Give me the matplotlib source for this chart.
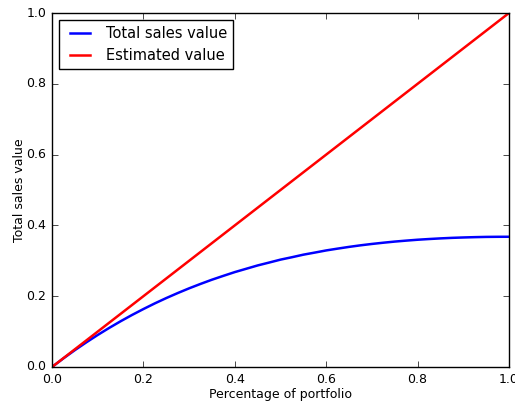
import matplotlib
matplotlib.use("Agg")
import matplotlib.pyplot as plt

plt.style.use("classic")

# Share of portfolio sold and resulting values
portfolio_pct = [0.000, 0.025, 0.050, 0.075, 0.100, 0.125, 0.150, 0.175, 0.200, 0.225,
                 0.250, 0.275, 0.300, 0.325, 0.350, 0.375, 0.400, 0.425, 0.450, 0.475,
                 0.500, 0.525, 0.550, 0.575, 0.600, 0.625, 0.650, 0.675, 0.700, 0.725,
                 0.750, 0.775, 0.800, 0.825, 0.850, 0.875, 0.900, 0.925, 0.950, 0.975,
                 1.000]
total_sales = [0.0000, 0.0244, 0.0476, 0.0696, 0.0905, 0.1103, 0.1291, 0.1469, 0.1637, 0.1797,
               0.1947, 0.2088, 0.2222, 0.2347, 0.2466, 0.2575, 0.2681, 0.2775, 0.2869, 0.2950,
               0.3033, 0.3101, 0.3173, 0.3232, 0.3293, 0.3344, 0.3393, 0.3437, 0.3476, 0.3511,
               0.3543, 0.3570, 0.3595, 0.3615, 0.3633, 0.3648, 0.3659, 0.3668, 0.3675, 0.3678,
               0.3679]
estimated_pct = [0.0, 1.0]
estimated = [0.0, 1.0]

fig = plt.figure(figsize=(5.15, 4.03), dpi=100, facecolor="white")
ax = fig.add_axes([52 / 515, 36 / 403, 457 / 515, 354 / 403])

ax.plot(portfolio_pct, total_sales, color="#0000ff", lw=1.8, label="Total sales value")
ax.plot(estimated_pct, estimated, color="#ff0000", lw=1.8, label="Estimated value")

ax.set_xlim(0, 1)
ax.set_ylim(0, 1)
ax.set_xticks([0.0, 0.2, 0.4, 0.6, 0.8, 1.0])
ax.set_yticks([0.0, 0.2, 0.4, 0.6, 0.8, 1.0])
ax.tick_params(labelsize=9, pad=4)
ax.set_xlabel("Percentage of portfolio", fontsize=9, labelpad=2)
ax.set_ylabel("Total sales value", fontsize=9, labelpad=0.5)
ax.legend(loc="upper left", fontsize=10.5)

fig.savefig("out.png", dpi=100, facecolor="white")
